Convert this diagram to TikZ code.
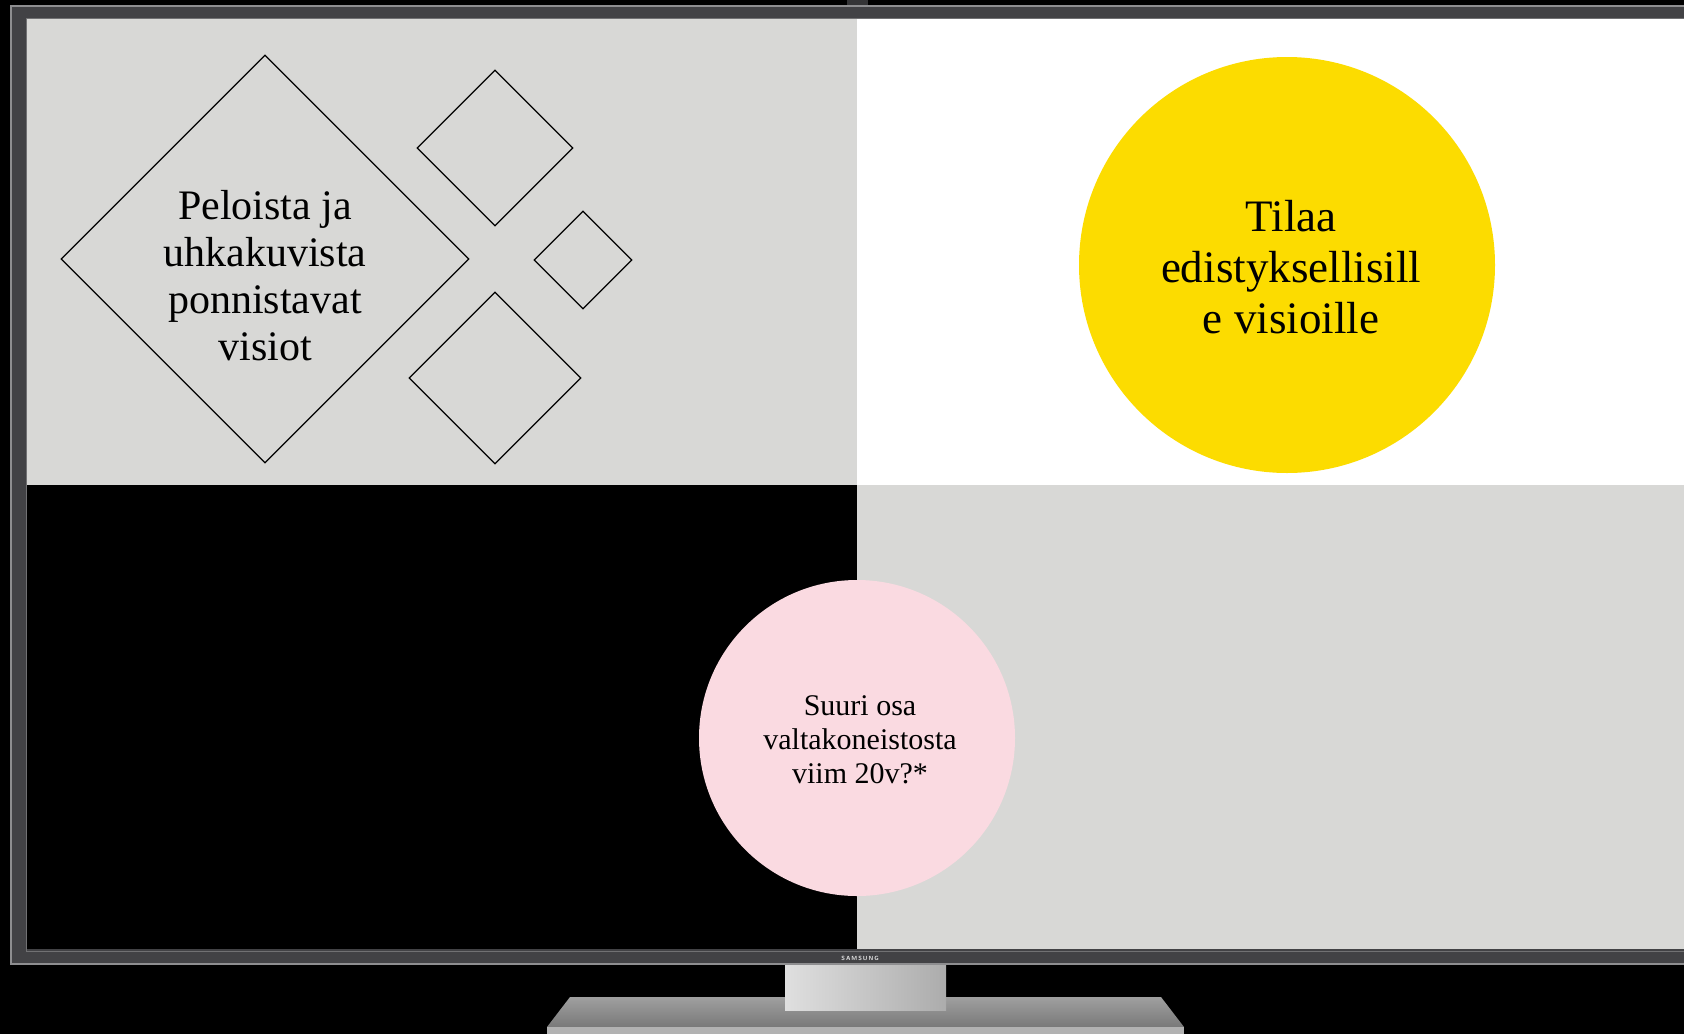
\documentclass[tikz,border=0pt]{standalone}
\usepackage{fontspec}
\setmainfont{Liberation Serif}
\usetikzlibrary{shapes.geometric}

\definecolor{screengray}{HTML}{D8D8D6}
\definecolor{visionyellow}{HTML}{FCDC00}
\definecolor{softpink}{HTML}{FADAE1}
\definecolor{bezel}{HTML}{424245}
\definecolor{bezeledge}{HTML}{8E8E90}

\begin{document}
\begin{tikzpicture}
	[x=1pt,y=-1pt,
	 tile/.style={diamond, draw=black, line width=1.3pt, inner sep=0pt},
	 blob/.style={circle, inner sep=0pt, align=center}];

	\useasboundingbox (0,0) rectangle (1684,1034);
	\fill[black] (0,0) rectangle (1684,1034);

	%Stand
	\fill[top color=gray!75, bottom color=gray!95!black] (570,997) -- (1161,997) -- (1184,1027) -- (547,1027) -- cycle;
	\fill[gray!60] (547,1027) rectangle (1184,1034);
	\fill[left color=gray!25, right color=gray!65] (785,965) rectangle (946,1010);

	%Bezel
	\fill[bezel!80!black] (847,0) rectangle (868,6);
	\fill[bezel] (10,5) rectangle (1690,965);
	\draw[bezeledge, line width=1.5pt] (11,965) -- (11,6) -- (1690,6);
	\draw[bezeledge, line width=1.2pt] (11,964) -- (1690,964);
	\draw[bezeledge!80!black, line width=1pt] (26,951) -- (26,18) -- (1690,18);
	\draw[bezeledge!80!black, line width=1pt] (26,951) -- (1690,951);
	\node[font=\fontsize{6}{6}\selectfont\sffamily\bfseries, text=gray!20, inner sep=0pt] (brand) at (860,958) {S\,A\,M\,S\,U\,N\,G};

	%Screen
	\coordinate (tl) at (27,19);
	\coordinate (mid) at (857,485);
	\coordinate (br) at (1684,949);
	\fill[screengray] (tl) rectangle (mid);
	\fill[white] (tl -| mid) rectangle (mid -| br);
	\fill[black] (tl |- mid) rectangle (mid |- br);
	\fill[screengray] (mid) rectangle (br);

	%Diamonds
	\node[tile, minimum size=408pt] (fear) at (265,259) {};
	\node[align=center, font=\fontsize{42}{47}\selectfont, inner sep=0pt] (feartext) at (265,276) {Peloista ja\\uhkakuvista\\ponnistavat\\visiot};
	\node[tile, minimum size=156pt] (tileA) at (495,148) {};
	\node[tile, minimum size=98pt] (tileB) at (583,260) {};
	\node[tile, minimum size=172pt] (tileC) at (495,378) {};

	%Circles
	\node[blob, fill=visionyellow, minimum size=416pt, font=\fontsize{45}{51}\selectfont] (space) at (1287,265) {};
	\node[align=center, font=\fontsize{45}{51}\selectfont, inner sep=0pt] (spacetext) at (1291,267) {Tilaa\\edistyksellisill\\e visioille};
	\node[blob, fill=softpink, minimum size=316pt, font=\fontsize{30}{34}\selectfont] (power) at (857,738) {};
	\node[align=center, font=\fontsize{30}{34}\selectfont, inner sep=0pt] (powertext) at (860,740) {Suuri osa\\valtakoneistosta\\viim 20v?*};
\end{tikzpicture}
\end{document}
